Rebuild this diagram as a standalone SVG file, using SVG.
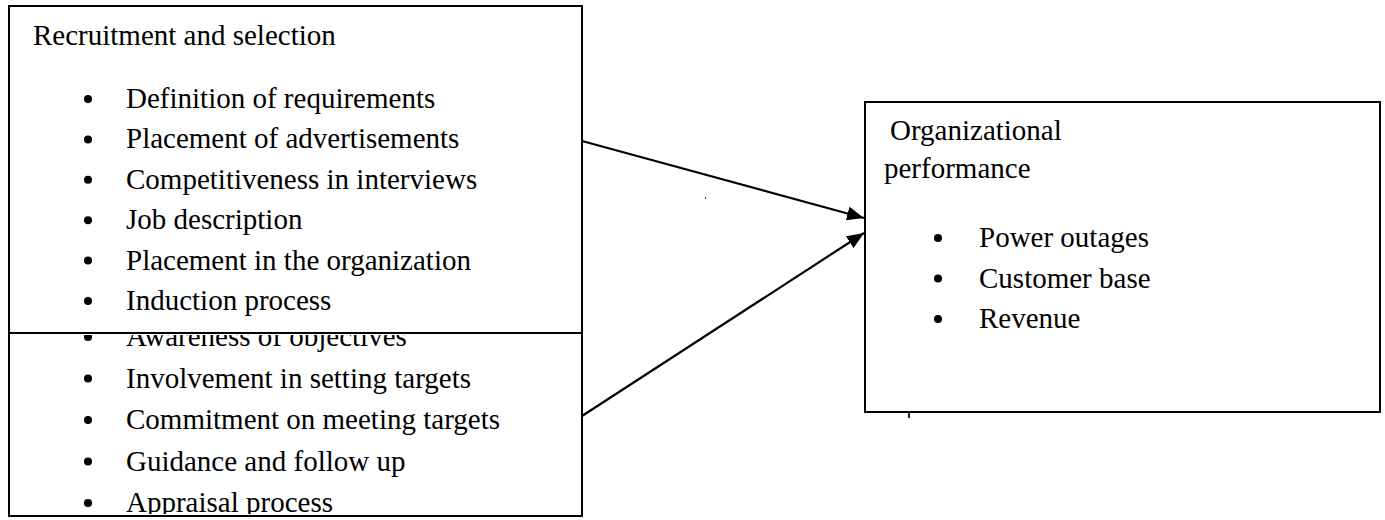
<svg xmlns="http://www.w3.org/2000/svg" width="1385" height="520" viewBox="0 0 1385 520">
  <style>
    .box { fill: #ffffff; stroke: #000000; stroke-width: 2; }
    .t { font-family: "Liberation Serif", "Times New Roman", serif; font-size: 29px; fill: #000000; }
    .dot { fill: #000000; }
    .conn { stroke: #000000; stroke-width: 2.2; fill: none; }
  </style>
  <defs>
    <marker id="arrow" markerUnits="userSpaceOnUse" markerWidth="18" markerHeight="14" refX="17" refY="7" orient="auto">
      <path d="M0,0 L17,7 L0,14 z" fill="#000000"/>
    </marker>
    <clipPath id="clipBottom">
      <rect x="9" y="335" width="572" height="179"/>
    </clipPath>
  </defs>

  <rect width="1385" height="520" fill="#ffffff"/>

  <g id="node-recruitment">
    <rect class="box" x="9" y="6" width="573" height="327"/>
    <text class="t" x="33" y="45">Recruitment and selection</text>
    <circle class="dot" cx="88" cy="99" r="4"/>
    <text class="t" x="126" y="108">Definition of requirements</text>
    <circle class="dot" cx="88" cy="139.4" r="4"/>
    <text class="t" x="126" y="148.4">Placement of advertisements</text>
    <circle class="dot" cx="88" cy="179.8" r="4"/>
    <text class="t" x="126" y="188.8">Competitiveness in interviews</text>
    <circle class="dot" cx="88" cy="220.2" r="4"/>
    <text class="t" x="126" y="229.2">Job description</text>
    <circle class="dot" cx="88" cy="260.6" r="4"/>
    <text class="t" x="126" y="269.6">Placement in the organization</text>
    <circle class="dot" cx="88" cy="301" r="4"/>
    <text class="t" x="126" y="310">Induction process</text>
  </g>

  <g id="node-goals">
    <rect class="box" x="9" y="333" width="573" height="183"/>
    <g clip-path="url(#clipBottom)">
      <circle class="dot" cx="88" cy="337" r="4"/>
      <text class="t" x="126" y="346">Awareness of objectives</text>
      <circle class="dot" cx="88" cy="378.5" r="4"/>
      <text class="t" x="126" y="387.5">Involvement in setting targets</text>
      <circle class="dot" cx="88" cy="420" r="4"/>
      <text class="t" x="126" y="429">Commitment on meeting targets</text>
      <circle class="dot" cx="88" cy="461.5" r="4"/>
      <text class="t" x="126" y="470.5">Guidance and follow up</text>
      <circle class="dot" cx="88" cy="503" r="4"/>
      <text class="t" x="126" y="512">Appraisal process</text>
    </g>
  </g>

  <g id="node-performance">
    <rect class="box" x="865" y="102" width="515" height="310"/>
    <text class="t" x="890" y="140">Organizational</text>
    <text class="t" x="884" y="178">performance</text>
    <circle class="dot" cx="938" cy="238" r="4"/>
    <text class="t" x="979" y="247">Power outages</text>
    <circle class="dot" cx="938" cy="278.5" r="4"/>
    <text class="t" x="979" y="287.5">Customer base</text>
    <circle class="dot" cx="938" cy="319" r="4"/>
    <text class="t" x="979" y="328">Revenue</text>
  </g>

  <g id="connectors">
    <line class="conn" x1="582" y1="141" x2="864" y2="218" marker-end="url(#arrow)"/>
    <line class="conn" x1="582" y1="416" x2="864" y2="233" marker-end="url(#arrow)"/>
  </g>

  <g id="specks">
    <rect x="705" y="197" width="1" height="2" fill="#444444"/>
    <rect x="908" y="413" width="2" height="5" fill="#222222"/>
  </g>
</svg>
